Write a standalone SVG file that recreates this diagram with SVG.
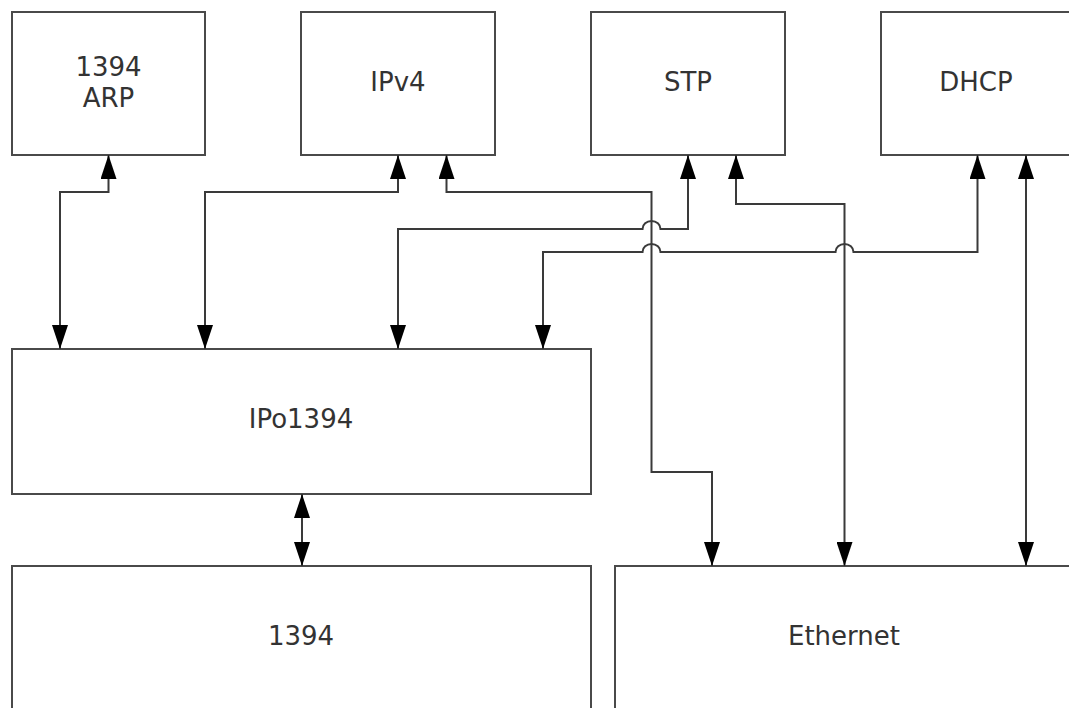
<svg xmlns="http://www.w3.org/2000/svg" width="1069" height="708" viewBox="0 0 1069 708">
<style>
.box{fill:#fff;stroke:#4a4a4a;stroke-width:2}
.lbl{font-family:"DejaVu Sans","Liberation Sans",sans-serif;font-size:26px;fill:#333;text-anchor:middle}
.con{fill:none;stroke:#3a3a3a;stroke-width:2;marker-start:url(#ah);marker-end:url(#ah)}
</style>
<defs>
<marker id="ah" markerUnits="userSpaceOnUse" markerWidth="24" markerHeight="16" viewBox="0 0 24 16" refX="24" refY="8" orient="auto-start-reverse">
<path d="M0,0 L24,8 L0,16 z" fill="#000"/>
</marker>
</defs>
<rect width="1069" height="708" fill="#fff"/>
<g id="node-arp"><rect class="box" x="12" y="12" width="193" height="143"/><text class="lbl" x="108.5" y="76">1394</text><text class="lbl" x="108.5" y="107">ARP</text></g>
<g id="node-ipv4"><rect class="box" x="301" y="12" width="194" height="143"/><text class="lbl" x="398" y="91">IPv4</text></g>
<g id="node-stp"><rect class="box" x="591" y="12" width="194" height="143"/><text class="lbl" x="688" y="91">STP</text></g>
<g id="node-dhcp"><rect class="box" x="881" y="12" width="194" height="143"/><text class="lbl" x="976" y="91">DHCP</text></g>
<g id="node-ipo1394"><rect class="box" x="12" y="349" width="579" height="145"/><text class="lbl" x="301" y="428">IPo1394</text></g>
<g id="node-1394"><rect class="box" x="12" y="566" width="579" height="160"/><text class="lbl" x="301" y="645">1394</text></g>
<g id="node-ethernet"><rect class="box" x="615" y="566" width="460" height="160"/><text class="lbl" x="844" y="645">Ethernet</text></g>
<g id="connectors">
<path class="con" d="M108.5,155 V192 H60 V349"/>
<path class="con" d="M398,155 V192 H205 V349"/>
<path class="con" d="M446.5,155 V192 H651.5 V472 H712 V566"/>
<path class="con" d="M688,155 V229 H660.5 A9 8 0 0 0 642.5,229 H398 V349"/>
<path class="con" d="M736,155 V204 H844.5 V566"/>
<path class="con" d="M977.5,155 V252 H853.5 A9 8 0 0 0 835.5,252 H660.5 A9 8 0 0 0 642.5,252 H543 V349"/>
<path class="con" d="M1026,155 V566"/>
<path class="con" d="M302,494 V566"/>
</g>
</svg>
